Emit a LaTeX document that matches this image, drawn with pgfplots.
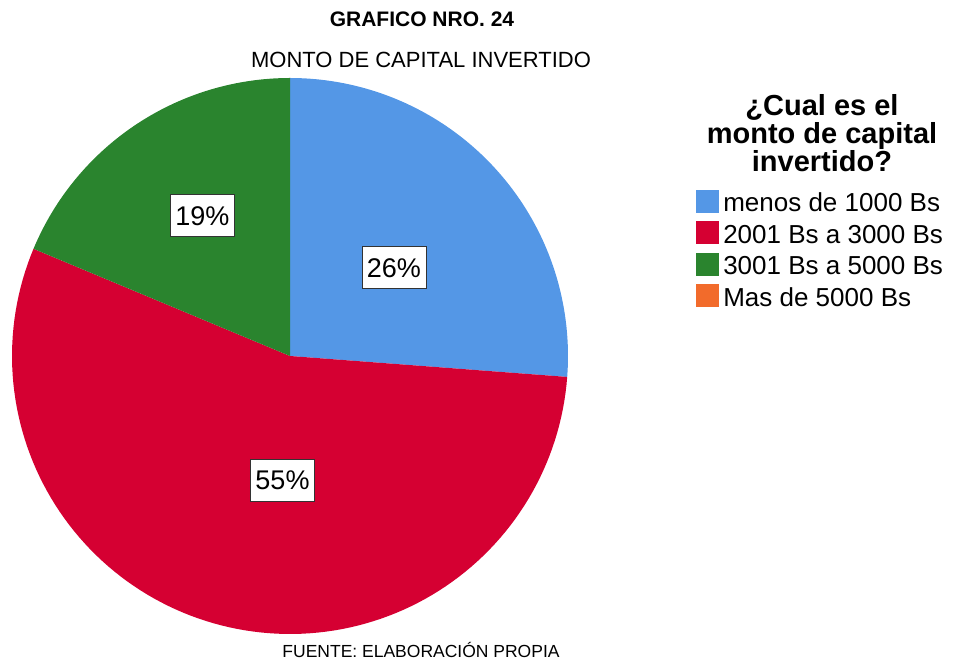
\documentclass[border=0pt]{standalone}
\usepackage{fontspec}
\setmainfont{Liberation Sans}
\usepackage{pgfplots}
\pgfplotsset{compat=1.18}

\definecolor{cblue}{HTML}{5497E6}
\definecolor{cred}{HTML}{D50032}
\definecolor{cgreen}{HTML}{2A842E}
\definecolor{corange}{HTML}{F26B2B}
\definecolor{cframe}{HTML}{333333}

% percentages: 26.2 / 55.1 / 18.7 / 0 , slices start at 90 deg, clockwise
\newcommand{\slice}[3]{%
  \addplot[fill=#3, draw=none, domain=#1:#2, samples=120, forget plot]
    ({cos(x)},{sin(x)}) -- (axis cs:0,0) -- cycle;}

\begin{document}
\begin{tikzpicture}
\useasboundingbox (0,0) rectangle (953pt,666pt);

\node[anchor=base, font=\bfseries\fontsize{21}{24}\selectfont] at (422pt,639pt) {GRAFICO NRO. 24};
\node[anchor=base, font=\fontsize{22}{26}\selectfont] at (421pt,598pt) {MONTO DE CAPITAL INVERTIDO};
\node[anchor=base, font=\fontsize{17.5}{20}\selectfont] at (421pt,8pt) {FUENTE: ELABORACIÓN PROPIA};
\node[anchor=base, align=center, font=\bfseries\fontsize{29}{28}\selectfont] at (822pt,494pt)
  {¿Cual es el\\monto de capital\\invertido?};

\begin{axis}[
    at={(12pt,32pt)}, anchor=south west,
    width=556pt, height=556pt, scale only axis,
    xmin=-1, xmax=1, ymin=-1, ymax=1,
    hide axis, clip=false,
    legend cell align=left,
    legend image code/.code={\fill[#1, draw=none] (0pt,-1pt) rectangle (23pt,22pt);
        \path (27pt,0pt);},
    legend style={
        at={(axis description cs:1.230,0.799)}, anchor=north west,
        draw=none, fill=none, inner sep=0pt,
        font=\fontsize{26}{28}\selectfont,
        row sep=-2pt,
        nodes={inner sep=0pt, text height=11.5pt, text depth=11.5pt},
    },
]
\slice{-4.32}{90}{cblue}
\slice{-202.68}{-4.32}{cred}
\slice{-270}{-202.68}{cgreen}

\addplot[only marks, mark=none, forget plot,
    point meta=explicit symbolic,
    nodes near coords, nodes near coords align={center},
    every node near coord/.style={fill=white, draw=cframe, line width=0.8pt,
        font=\fontsize{27}{30}\selectfont, inner xsep=5pt, inner ysep=11pt,
        text height=19.5pt, text depth=0.5pt, anchor=center},
] coordinates {
    (0.374,0.317) [26\%]
    (-0.027,-0.446) [55\%]
    (-0.315,0.505) [19\%]
};

\addlegendimage{cblue}
\addlegendentry{menos de 1000 Bs}
\addlegendimage{cred}
\addlegendentry{2001 Bs a 3000 Bs}
\addlegendimage{cgreen}
\addlegendentry{3001 Bs a 5000 Bs}
\addlegendimage{corange}
\addlegendentry{Mas de 5000 Bs}
\end{axis}
\end{tikzpicture}
\end{document}
